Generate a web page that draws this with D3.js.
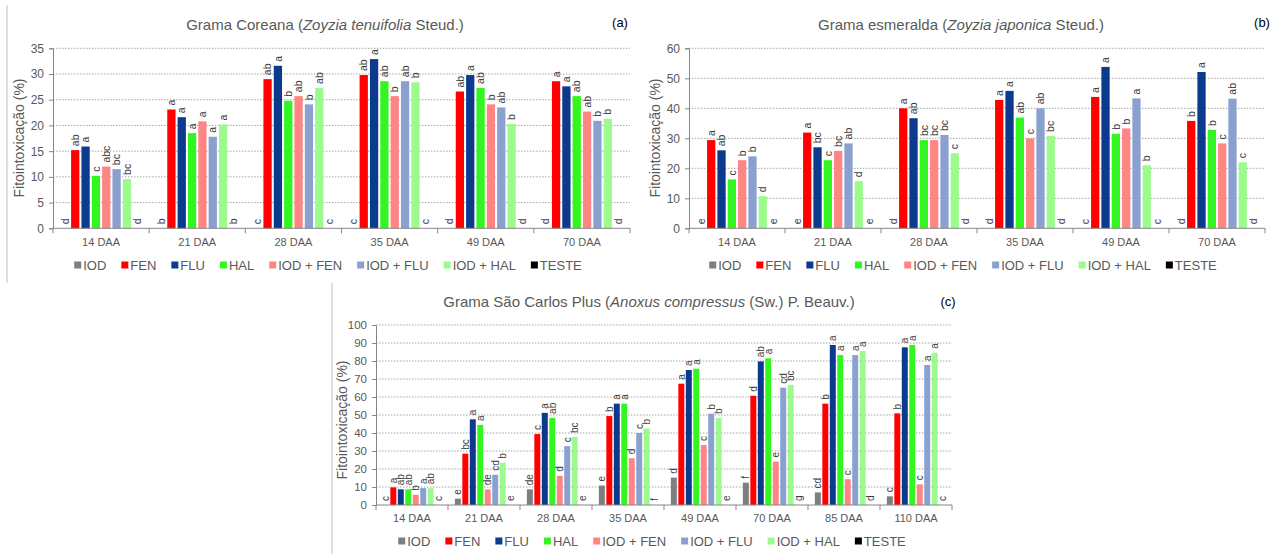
<!DOCTYPE html>
<html>
<head>
<meta charset="utf-8">
<script src="https://cdn.jsdelivr.net/npm/d3@7"></script>
<style>
  body { margin: 0; background: #fff; }
  svg { font-family: "Liberation Sans", Arial, sans-serif; }
</style>
</head>
<body>
<div id="chart"></div>
<script>
// Series (same for all three panels)
var seriesNames = ["IOD", "FEN", "FLU", "HAL", "IOD + FEN", "IOD + FLU", "IOD + HAL", "TESTE"];
var seriesColors = ["#7f7f7f", "#ff0000", "#0c3a8c", "#33f51f", "#ff8585", "#8aa1cf", "#9dfb8e", "#000000"];

// (a) Grama Coreana - one row per DAA, values in series order
var categoriesA = ["14 DAA", "21 DAA", "28 DAA", "35 DAA", "49 DAA", "70 DAA"];
var valuesA = [
  [0, 15.2, 15.9, 10.2, 12.0, 11.5, 9.6, 0],
  [0, 23.1, 21.6, 18.5, 20.8, 17.8, 20.2, 0],
  [0, 29.0, 31.6, 24.8, 25.7, 24.1, 27.3, 0],
  [0, 29.8, 32.9, 28.6, 25.7, 28.6, 28.4, 0],
  [0, 26.6, 29.8, 27.3, 24.1, 23.5, 20.3, 0],
  [0, 28.6, 27.6, 25.7, 22.7, 20.9, 21.3, 0]
];
var lettersA = [
  ["d", "ab", "a", "c", "abc", "bc", "bc", "d"],
  ["b", "a", "a", "a", "a", "a", "a", "b"],
  ["c", "ab", "a", "b", "ab", "b", "ab", "c"],
  ["c", "ab", "a", "ab", "b", "ab", "b", "c"],
  ["d", "ab", "a", "ab", "b", "ab", "b", "d"],
  ["d", "a", "a", "ab", "ab", "b", "b", "d"]
];

// (b) Grama esmeralda
var categoriesB = ["14 DAA", "21 DAA", "28 DAA", "35 DAA", "49 DAA", "70 DAA"];
var valuesB = [
  [0, 29.4, 26.0, 16.3, 22.7, 24.0, 10.7, 0],
  [0, 31.9, 27.0, 22.7, 25.8, 28.3, 15.7, 0],
  [0, 40.0, 36.7, 29.4, 29.4, 31.1, 25.0, 0],
  [0, 42.8, 45.8, 36.9, 30.0, 40.0, 30.8, 0],
  [0, 43.8, 53.8, 31.5, 33.3, 43.3, 21.0, 0],
  [0, 35.8, 52.1, 32.8, 28.3, 43.2, 22.0, 0]
];
var lettersB = [
  ["e", "a", "ab", "c", "b", "b", "d", "e"],
  ["e", "a", "bc", "c", "bc", "ab", "d", "e"],
  ["d", "a", "ab", "bc", "bc", "bc", "c", "d"],
  ["d", "a", "a", "ab", "c", "ab", "bc", "d"],
  ["c", "a", "a", "b", "b", "a", "b", "c"],
  ["d", "b", "a", "b", "c", "ab", "c", "d"]
];

// (c) Grama São Carlos Plus
var categoriesC = ["14 DAA", "21 DAA", "28 DAA", "35 DAA", "49 DAA", "70 DAA", "85 DAA", "110 DAA"];
var valuesC = [
  [0, 9.8, 8.7, 8.7, 5.7, 9.4, 9.3, 0],
  [3.5, 28.5, 47.6, 44.5, 8.7, 16.8, 23.5, 0],
  [8.7, 39.4, 51.2, 48.4, 16.2, 32.7, 37.8, 0],
  [10.8, 49.4, 56.3, 56.3, 26.0, 40.0, 42.5, 0],
  [15.2, 67.4, 75.0, 75.7, 33.3, 50.7, 48.3, 0],
  [12.4, 60.7, 79.8, 81.5, 24.1, 65.2, 66.7, 0],
  [7.0, 56.3, 88.9, 83.3, 14.3, 83.3, 85.6, 0],
  [4.8, 50.9, 87.6, 88.9, 11.5, 77.8, 84.6, 0]
];
var lettersC = [
  ["c", "a", "ab", "ab", "b", "a", "ab", "c"],
  ["e", "bc", "a", "a", "de", "cd", "b", "e"],
  ["de", "c", "a", "ab", "d", "c", "bc", "e"],
  ["e", "b", "a", "a", "d", "c", "b", "f"],
  ["d", "a", "a", "a", "c", "b", "b", "e"],
  ["f", "d", "ab", "a", "e", "cd", "bc", "g"],
  ["cd", "b", "a", "a", "c", "a", "a", "d"],
  ["c", "b", "a", "a", "c", "a", "a", "c"]
];

var svg = d3.select("#chart").append("svg")
  .attr("width", 1275)
  .attr("height", 554);

// panel frame lines
svg.append("line").attr("x1", 7).attr("x2", 7).attr("y1", 5).attr("y2", 283)
  .attr("stroke", "#bfbfbf");
svg.append("line").attr("x1", 332).attr("x2", 332).attr("y1", 283).attr("y2", 554)
  .attr("stroke", "#bfbfbf");

function drawPanel(p) {
  var catW = (p.right - p.left) / p.categories.length;

  var x = d3.scaleBand()
    .domain(p.categories)
    .range([p.left, p.right]);

  var xInner = d3.scaleBand()
    .domain(d3.range(seriesNames.length))
    .range([catW * p.pad, catW * (1 - p.pad)])
    .paddingInner(0.2)
    .paddingOuter(0.1);

  var y = d3.scaleLinear()
    .domain([0, p.yMax])
    .range([p.bottom, p.top]);

  var g = svg.append("g");

  // gridlines
  g.selectAll(".grid")
    .data(p.ticks.filter(function(t) { return t > 0; }))
    .enter().append("line")
    .attr("x1", p.left).attr("x2", p.right)
    .attr("y1", function(d) { return y(d); })
    .attr("y2", function(d) { return y(d); })
    .attr("stroke", "#a6a6a6")
    .attr("stroke-dasharray", "1.5,1.5");

  // y axis
  var yAxis = g.append("g")
    .attr("transform", "translate(" + p.left + ",0)")
    .call(d3.axisLeft(y).tickValues(p.ticks).tickSize(4).tickPadding(5));
  yAxis.select(".domain").attr("stroke", "#868686");
  yAxis.selectAll(".tick line").attr("stroke", "#868686");
  yAxis.selectAll(".tick text")
    .attr("fill", "#595959")
    .style("font-size", p.tickFont + "px")
    .style("font-family", "Liberation Sans, Arial, sans-serif");

  // bars
  var groups = g.selectAll(".cat")
    .data(p.values)
    .enter().append("g")
    .attr("transform", function(d, i) { return "translate(" + x(p.categories[i]) + ",0)"; });

  groups.each(function(row, ci) {
    var grp = d3.select(this);
    grp.selectAll("rect")
      .data(row)
      .enter().append("rect")
      .attr("x", function(d, si) { return xInner(si); })
      .attr("y", function(d) { return y(d); })
      .attr("width", xInner.bandwidth())
      .attr("height", function(d) { return y(0) - y(d); })
      .attr("fill", function(d, si) { return seriesColors[si]; });

    grp.selectAll("text")
      .data(row)
      .enter().append("text")
      .attr("transform", function(d, si) {
        return "translate(" + (xInner(si) + xInner.bandwidth() / 2) + "," + (y(d) - 4) + ") rotate(-90)";
      })
      .attr("dy", "0.35em")
      .attr("fill", "#404040")
      .style("font-size", p.letterFont + "px")
      .text(function(d, si) { return p.letters[ci][si]; });
  });

  // x axis (ticks at category boundaries)
  var bounds = d3.range(p.categories.length + 1).map(function(i) { return p.left + i * catW; });
  g.append("line")
    .attr("x1", p.left).attr("x2", p.right)
    .attr("y1", y(0)).attr("y2", y(0))
    .attr("stroke", "#868686");
  g.selectAll(".xtick")
    .data(bounds)
    .enter().append("line")
    .attr("x1", function(d) { return d; }).attr("x2", function(d) { return d; })
    .attr("y1", y(0)).attr("y2", y(0) + 5)
    .attr("stroke", "#868686");
  g.selectAll(".xlab")
    .data(p.categories)
    .enter().append("text")
    .attr("x", function(d) { return x(d) + catW / 2; })
    .attr("y", y(0) + p.catDy)
    .attr("text-anchor", "middle")
    .attr("fill", "#595959")
    .style("font-size", p.catFont + "px")
    .text(function(d) { return d; });

  // y label
  g.append("text")
    .attr("transform", "translate(" + p.yLabelX + "," + p.yLabelY + ") rotate(-90)")
    .attr("text-anchor", "middle")
    .attr("dy", "0.35em")
    .attr("fill", "#595959")
    .style("font-size", p.yLabelFont + "px")
    .text("Fitointoxicação (%)");

  // title
  var title = g.append("text")
    .attr("x", p.titleX)
    .attr("y", p.titleY)
    .attr("text-anchor", "middle")
    .attr("fill", "#595959")
    .style("font-size", "15px");
  title.append("tspan").text(p.title[0]);
  title.append("tspan").style("font-style", "italic").text(p.title[1]);
  title.append("tspan").text(p.title[2]);

  g.append("text")
    .attr("x", p.tagX)
    .attr("y", p.tagY)
    .attr("text-anchor", "middle")
    .attr("fill", "#000")
    .style("font-size", "13px")
    .text(p.tag);

  // legend
  var leg = g.append("g");
  var cursor = 0;
  seriesNames.forEach(function(name, si) {
    var item = leg.append("g").attr("transform", "translate(" + cursor + ",0)");
    item.append("rect")
      .attr("x", 0).attr("y", -3.5)
      .attr("width", 7).attr("height", 7)
      .attr("fill", seriesColors[si]);
    var t = item.append("text")
      .attr("x", 9)
      .attr("dy", "0.35em")
      .attr("fill", "#595959")
      .style("font-size", "13px")
      .text(name);
    cursor += 9 + t.node().getComputedTextLength() + 15;
  });
  cursor -= 15;
  leg.attr("transform", "translate(" + (p.legendX - cursor / 2) + "," + p.legendY + ")");
}

drawPanel({
  categories: categoriesA, values: valuesA, letters: lettersA,
  left: 53, right: 630, top: 48.3, bottom: 228.3,
  yMax: 35, ticks: d3.range(0, 36, 5), pad: 0.07,
  tickFont: 12, letterFont: 10.5, catFont: 11, catDy: 18, yLabelFont: 14,
  yLabelX: 19, yLabelY: 138,
  title: ["Grama Coreana (", "Zoyzia tenuifolia", " Steud.)"], titleX: 325, titleY: 30,
  tag: "(a)", tagX: 620, tagY: 27,
  legendX: 328, legendY: 265
});

drawPanel({
  categories: categoriesB, values: valuesB, letters: lettersB,
  left: 689, right: 1265, top: 48.3, bottom: 228.3,
  yMax: 60, ticks: d3.range(0, 61, 10), pad: 0.07,
  tickFont: 12, letterFont: 10.5, catFont: 11, catDy: 18, yLabelFont: 14,
  yLabelX: 655, yLabelY: 138,
  title: ["Grama esmeralda (", "Zoyzia japonica", " Steud.)"], titleX: 961, titleY: 30,
  tag: "(b)", tagX: 1262, tagY: 27,
  legendX: 963, legendY: 265
});

drawPanel({
  categories: categoriesC, values: valuesC, letters: lettersC,
  left: 376, right: 952, top: 325, bottom: 505,
  yMax: 100, ticks: d3.range(0, 101, 10), pad: 0.085,
  tickFont: 11.5, letterFont: 10, catFont: 11, catDy: 17, yLabelFont: 14,
  yLabelX: 342, yLabelY: 420,
  title: ["Grama São Carlos Plus (", "Anoxus compressus", " (Sw.) P. Beauv.)"], titleX: 649, titleY: 307,
  tag: "(c)", tagX: 948, tagY: 306,
  legendX: 652, legendY: 541
});
</script>
</body>
</html>
